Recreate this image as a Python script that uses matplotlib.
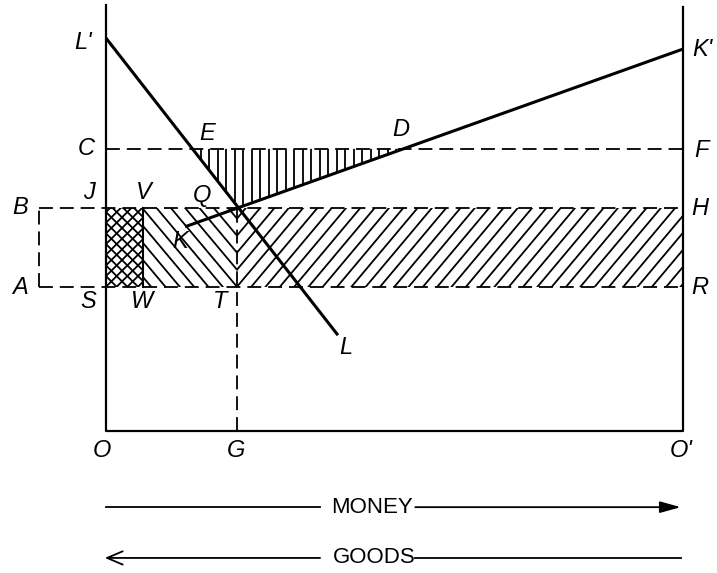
import numpy as np
import matplotlib
matplotlib.use("Agg")
import matplotlib.pyplot as plt
from matplotlib.collections import LineCollection
from matplotlib.patches import Polygon, FancyArrowPatch

plt.rcParams['font.family'] = ['Liberation Sans Narrow', 'Liberation Sans', 'DejaVu Sans']
plt.rcParams['lines.scale_dashes'] = False

# diagram values (box from O=0 to O'=100 horizontally)
x_O, x_V, x_G, x_Oprime = 0.0, 6.4, 22.7, 100.0
x_B = -11.6
y_A, y_H, y_C = 25.0, 38.6, 48.9
top_left, top_right = 73.8, 73.5

# demand-type lines
L_x = [0.0, 40.2]
L_y = [68.1, 16.6]
K_x = [13.7, 100.0]
K_y = [35.4, 66.2]

# hatch spacing (horizontal distance, diagram units)
h_vert = 1.47
h_diag = 2.48
h_cross = 1.85

# point labels: text, x, y, ha
labels = [
    ("L'", -2.4, 67.4, 'right'), ("K'", 101.6, 66.2, 'left'),
    ("C", -1.9, 49.0, 'right'), ("E", 17.5, 51.6, 'center'),
    ("D", 51.1, 52.2, 'center'), ("F", 102.0, 48.7, 'left'),
    ("B", -14.8, 38.8, 'center'), ("J", -2.9, 41.4, 'center'),
    ("V", 6.6, 41.4, 'center'), ("Q", 16.6, 40.9, 'center'),
    ("H", 101.5, 38.6, 'left'), ("K", 12.8, 32.8, 'center'),
    ("A", -14.9, 24.8, 'center'), ("S", -3.1, 22.4, 'center'),
    ("W", 6.2, 22.4, 'center'), ("T", 19.8, 22.4, 'center'),
    ("R", 101.5, 24.8, 'left'), ("L", 41.6, 14.4, 'center'),
    ("O", -0.7, -3.3, 'center'), ("G", 22.5, -3.3, 'center'),
    ("O'", 99.7, -3.3, 'center'),
]


def line_y(xs, ys, x):
    return ys[0] + (ys[1] - ys[0]) * (x - xs[0]) / (xs[1] - xs[0])


def line_x(xs, ys, y):
    return xs[0] + (xs[1] - xs[0]) * (y - ys[0]) / (ys[1] - ys[0])


def hatch(ax, poly, angle, h, anchor, lw=1.3):
    patch = Polygon(poly, closed=True, fill=False, lw=0)
    ax.add_patch(patch)
    th = np.radians(angle)
    d = np.array([np.cos(th), np.sin(th)])
    n = np.array([-np.sin(th), np.cos(th)])
    step = h * abs(np.sin(th))
    pts = np.array(poly)
    reach = np.max(np.linalg.norm(pts - anchor, axis=1)) + 5
    segs = []
    for k in range(-int(reach / step) - 2, int(reach / step) + 3):
        c = np.array(anchor) + k * step * n
        segs.append([c - reach * d, c + reach * d])
    lc = LineCollection(segs, colors='black', linewidths=lw)
    ax.add_collection(lc)
    lc.set_clip_path(patch)


fig = plt.figure(figsize=(7.17, 5.73), dpi=100)
ax = fig.add_axes([0, 0, 1, 1])
ax.set_xlim(-18.37, 105.89)
ax.set_ylim(-24.61, 74.70)
ax.axis('off')

# intersections
sL = (L_y[1] - L_y[0]) / (L_x[1] - L_x[0])
sK = (K_y[1] - K_y[0]) / (K_x[1] - K_x[0])
x_E = line_x(L_x, L_y, y_C)
x_D = line_x(K_x, K_y, y_C)
x_Q = (K_y[0] - sK * K_x[0] - L_y[0] + sL * L_x[0]) / (sL - sK)
y_Q = line_y(L_x, L_y, x_Q)

# hatched areas
hatch(ax, [(x_E, y_C), (x_D, y_C), (x_Q, y_Q)], 90, h_vert, (x_E, y_C))
hatch(ax, [(x_O, y_A), (x_V, y_A), (x_V, y_H), (x_O, y_H)], 45, h_cross, (x_O, y_A))
hatch(ax, [(x_O, y_A), (x_V, y_A), (x_V, y_H), (x_O, y_H)], -45, h_cross, (x_O, y_A))
hatch(ax, [(x_V, y_A), (x_G, y_A), (x_G, y_H), (x_V, y_H)], -50, h_diag, (x_G, y_A))
hatch(ax, [(x_G, y_A), (x_Oprime, y_A), (x_Oprime, y_H), (x_G, y_H)], 50, h_diag, (x_G, y_A))

# box
ax.plot([x_O, x_O, x_Oprime, x_Oprime], [top_left, 0, 0, top_right], color='black', lw=1.6)

# dashed guides
dash = dict(color='black', lw=1.3, linestyle=(0, (10, 5)))
ax.plot([x_O, x_Oprime], [y_C, y_C], **dash)
ax.plot([x_B, x_Oprime], [y_H, y_H], **dash)
ax.plot([x_B, x_Oprime], [y_A, y_A], **dash)
ax.plot([x_B, x_B], [y_A, y_H], **dash)
ax.plot([x_G, x_G], [0, y_Q], **dash)
ax.plot([x_V, x_V], [y_A, y_H], color='black', lw=1.5)

# main lines
ax.plot(L_x, L_y, color='black', lw=2.2, solid_capstyle='butt')
ax.plot(K_x, K_y, color='black', lw=2.2, solid_capstyle='butt')

for txt, x, y, ha in labels:
    ax.text(x, y, txt, ha=ha, va='center', fontsize=17, style='italic')

# direction arrows
y_money, y_goods = -13.2, -22.0
ax.plot([0, 37.1], [y_money, y_money], color='black', lw=1.3)
ax.add_patch(FancyArrowPatch((53.6, y_money), (99.6, y_money),
                             arrowstyle='-|>,head_length=0.9,head_width=0.25',
                             mutation_scale=14, color='black', lw=1.3,
                             shrinkA=0, shrinkB=0))
ax.text(46.1, y_money, "MONEY", ha='center', va='center', fontsize=16)

ax.add_patch(FancyArrowPatch((37.1, y_goods), (-0.2, y_goods),
                             arrowstyle='->,head_length=0.7,head_width=0.3',
                             mutation_scale=16, color='black', lw=1.3,
                             shrinkA=0, shrinkB=0))
ax.plot([53.6, 99.6], [y_goods, y_goods], color='black', lw=1.3)
ax.text(46.5, y_goods, "GOODS", ha='center', va='center', fontsize=16)

fig.savefig("out.png", dpi=100)
